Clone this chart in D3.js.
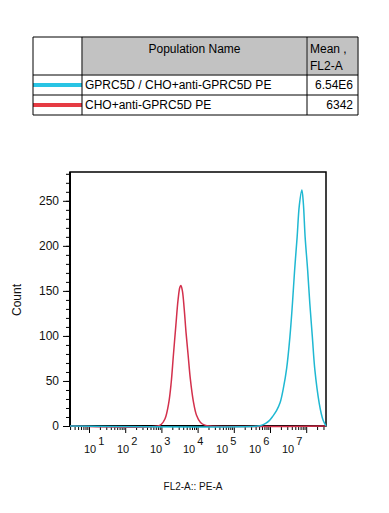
<!DOCTYPE html>
<html>
<head>
<meta charset="utf-8">
<script src="https://cdn.jsdelivr.net/npm/d3@7"></script>
<style>
    body { margin: 0; background: #fff; }
    svg { display: block; font-family: Arial, "Liberation Sans", sans-serif; }
</style>
</head>
<body>
<svg id="svg"></svg>
<script>
// legend table
const popNames = ["GPRC5D / CHO+anti-GPRC5D PE", "CHO+anti-GPRC5D PE"];
const popMeans = ["6.54E6", "6342"];
const popColors = ["#29c4e4", "#e53b43"];
const curveColors = ["#1fb8d2", "#d3304c"];

// histograms, x given as log10(FL2-A)
const cyanLog = [0.475, 5.67, 5.78, 5.88, 5.98, 6.08, 6.18, 6.28, 6.37, 6.46, 6.55, 6.62, 6.68, 6.75, 6.81, 6.88, 6.92, 6.97, 7.04, 7.10, 7.17, 7.24, 7.36, 7.42, 7.47, 7.52, 7.547];
const cyanCount = [0, 0, 1, 3, 6, 11, 17, 26, 42, 64, 99, 136, 173, 210, 245, 262, 248, 210, 173, 136, 99, 62, 25, 13, 6, 2, 0];
const redLog = [0.475, 2.90, 3.00, 3.10, 3.20, 3.27, 3.33, 3.40, 3.46, 3.51, 3.54, 3.58, 3.63, 3.68, 3.74, 3.80, 3.88, 3.97, 4.08, 4.20, 4.35, 7.547];
const redCount = [0, 0, 2, 8, 25, 48, 78, 112, 140, 154, 156, 150, 130, 104, 78, 52, 28, 12, 4, 1, 0, 0];

const yMajor = [0, 50, 100, 150, 200, 250];
const xDecades = [1, 2, 3, 4, 5, 6, 7];

const W = 389, H = 513;
const svg = d3.select("#svg").attr("width", W).attr("height", H);

// ---------- table ----------
const T = { left: 33, right: 358, top: 37, head: 75, row: 20 };
const colX = [33, 82, 307, 358];
const oTable = svg.append("g");

// header grey cells
oTable.selectAll("rect.head")
    .data([1, 2])
    .join("rect")
    .attr("x", i => colX[i])
    .attr("y", T.top)
    .attr("width", i => colX[i + 1] - colX[i])
    .attr("height", T.head - T.top)
    .attr("fill", "#c2c2c2")
    .attr("stroke", "#e6e6e6")
    .attr("stroke-width", 1);

oTable.append("text")
    .attr("x", (colX[1] + colX[2]) / 2)
    .attr("y", 53)
    .attr("text-anchor", "middle")
    .style("font-size", "12px")
    .text("Population Name");
oTable.append("text")
    .attr("x", colX[2] + 3)
    .attr("y", 53)
    .style("font-size", "12px")
    .text("Mean ,");
oTable.append("text")
    .attr("x", colX[2] + 3)
    .attr("y", 70)
    .style("font-size", "12px")
    .text("FL2-A");

popNames.forEach((name, i) => {
    const yc = T.head + T.row * i + T.row / 2;
    oTable.append("line")
        .attr("x1", colX[0])
        .attr("x2", colX[1])
        .attr("y1", yc)
        .attr("y2", yc)
        .attr("stroke", popColors[i])
        .attr("stroke-width", 4);
    oTable.append("text")
        .attr("x", colX[1] + 3)
        .attr("y", yc + 4)
        .style("font-size", "12px")
        .text(name);
    oTable.append("text")
        .attr("x", colX[3] - 5)
        .attr("y", yc + 4)
        .attr("text-anchor", "end")
        .style("font-size", "12px")
        .text(popMeans[i]);
});

// grid lines
const rowY = [T.top, T.head, T.head + T.row, T.head + T.row * 2];
rowY.forEach(v => {
    oTable.append("line")
        .attr("x1", T.left).attr("x2", T.right)
        .attr("y1", v).attr("y2", v)
        .attr("stroke", "#000").attr("stroke-width", 1);
});
colX.forEach(v => {
    oTable.append("line")
        .attr("x1", v).attr("x2", v)
        .attr("y1", T.top).attr("y2", rowY[3])
        .attr("stroke", "#000").attr("stroke-width", 1);
});

// ---------- histogram ----------
const P = { left: 70, right: 326, top: 172, bottom: 426 };
const x = d3.scaleLog()
    .domain([Math.pow(10, 0.475), Math.pow(10, 7.547)])
    .range([P.left, P.right]);
const y = d3.scaleLinear()
    .domain([0, 282])
    .range([P.bottom, P.top]);
// decade labels sit on their own spacing in the source picture
const xLabel = d3.scaleLinear().domain([1, 7]).range([90, 288]);

const oPlot = svg.append("g");

// minor / major ticks
const xMinor = [];
for (let e = 0; e <= 7; e++) {
    for (let m = 2; m <= 9; m++) {
        const v = m * Math.pow(10, e);
        if (v >= x.domain()[0] && v <= x.domain()[1]) xMinor.push(v);
    }
}
const yMinor = d3.range(0, 281, 10);

oPlot.append("g")
    .attr("transform", `translate(0,${P.bottom})`)
    .call(d3.axisBottom(x).tickValues(xMinor).tickSize(4).tickFormat(""))
    .call(g => g.select(".domain").remove());
oPlot.append("g")
    .attr("transform", `translate(0,${P.bottom})`)
    .call(d3.axisBottom(x).tickValues(xDecades.map(d => Math.pow(10, d))).tickSize(7).tickFormat(""))
    .call(g => g.select(".domain").remove());

oPlot.append("g")
    .attr("transform", `translate(${P.left},0)`)
    .call(d3.axisLeft(y).tickValues(yMinor).tickSize(4).tickFormat(""))
    .call(g => g.select(".domain").remove());
oPlot.append("g")
    .attr("transform", `translate(${P.left},0)`)
    .call(d3.axisLeft(y).tickValues(yMajor).tickSize(7).tickPadding(4))
    .call(g => g.select(".domain").remove())
    .call(g => g.selectAll("text").style("font-size", "12px").style("font-family", "Arial, 'Liberation Sans', sans-serif").attr("fill", "#111"));

oPlot.selectAll(".tick line").attr("stroke", "#000");

// decade labels 10^n
const xl = oPlot.append("g");
xDecades.forEach(d => {
    const t = xl.append("text")
        .attr("x", xLabel(d) - 6)
        .attr("y", 453)
        .style("font-size", "11px")
        .attr("fill", "#111");
    t.append("tspan").text("10");
    t.append("tspan")
        .attr("dx", 2)
        .attr("dy", -8)
        .style("font-size", "11px")
        .text(d);
});

// frame
oPlot.append("rect")
    .attr("x", P.left)
    .attr("y", P.top)
    .attr("width", P.right - P.left)
    .attr("height", P.bottom - P.top)
    .attr("fill", "none")
    .attr("stroke", "#000")
    .attr("stroke-width", 1.5);
oPlot.append("line")
    .attr("x1", P.left).attr("x2", P.left)
    .attr("y1", P.top).attr("y2", P.bottom + 1)
    .attr("stroke", "#000").attr("stroke-width", 2);
oPlot.append("line")
    .attr("x1", P.left - 1).attr("x2", P.right)
    .attr("y1", P.bottom).attr("y2", P.bottom)
    .attr("stroke", "#000").attr("stroke-width", 2);

// curves
const line = d3.line()
    .x(d => x(Math.pow(10, d[0])))
    .y(d => y(d[1]))
    .curve(d3.curveCatmullRom.alpha(0.5));

const series = [
    { logs: redLog, counts: redCount, color: curveColors[1] },
    { logs: cyanLog, counts: cyanCount, color: curveColors[0] }
];
series.forEach(s => {
    oPlot.append("path")
        .datum(s.logs.map((v, i) => [v, s.counts[i]]))
        .attr("d", line)
        .attr("fill", "none")
        .attr("stroke", s.color)
        .attr("stroke-width", 1.5);
});

// axis titles
svg.append("text")
    .attr("transform", "translate(21,300) rotate(-90)")
    .attr("text-anchor", "middle")
    .style("font-size", "12px")
    .attr("fill", "#111")
    .text("Count");
svg.append("text")
    .attr("x", 193)
    .attr("y", 490)
    .attr("text-anchor", "middle")
    .style("font-size", "10px")
    .attr("fill", "#111")
    .text("FL2-A:: PE-A");
</script>
</body>
</html>
